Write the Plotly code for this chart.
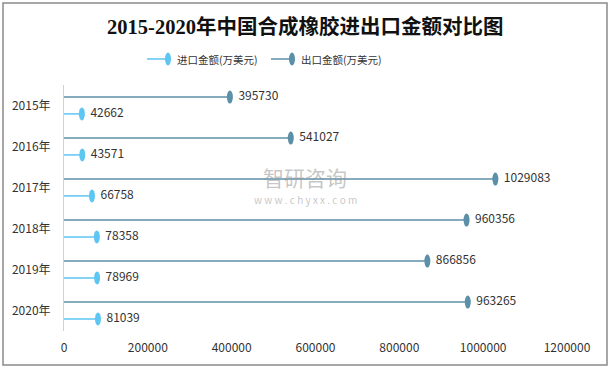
import plotly.graph_objects as go
import numpy as np

years = ["2015年", "2016年", "2017年", "2018年", "2019年", "2020年"]
import_vals = [42662, 43571, 66758, 78358, 78969, 81039]
export_vals = [395730, 541027, 1029083, 960356, 866856, 963265]
x_ticks = [0, 200000, 400000, 600000, 800000, 1000000, 1200000]

c_imp = "#5EC6F2"
c_exp = "#5C8FA8"
font = "Noto Sans CJK SC, Microsoft YaHei, sans-serif"

pos = np.arange(len(years))
off = 0.205
y_exp = pos - off
y_imp = pos + off

fig = go.Figure()

def lollipop(vals, ys, color, name):
    xs, yy = [], []
    for v, y in zip(vals, ys):
        xs += [0, v, None]
        yy += [y, y, None]
    fig.add_trace(go.Scatter(x=xs, y=yy, mode="lines", line=dict(color=color, width=1.5),
                             name=name, showlegend=False, hoverinfo="skip"))
    fig.add_trace(go.Scatter(x=vals, y=ys, mode="markers+text", marker=dict(size=12, opacity=0),
                             text=[str(v) for v in vals], textposition="middle right",
                             textfont=dict(family=font, size=12, color="#333333"),
                             showlegend=False, hoverinfo="skip"))
    for v, y in zip(vals, ys):
        fig.add_shape(type="circle", xref="x", yref="y", xsizemode="pixel", ysizemode="pixel",
                      xanchor=v, yanchor=y, x0=-3, x1=3, y0=-6.5, y1=6.5,
                      fillcolor=color, line=dict(width=0))

lollipop(export_vals, y_exp, c_exp, "出口金额(万美元)")
lollipop(import_vals, y_imp, c_imp, "进口金额(万美元)")

W0, X0, X1 = 613, 64, 567
H0, Y0, Y1 = 369, 85, 331
def px(x):
    return (x - X0) / (X1 - X0)
def py(y):
    return (Y1 - y) / (Y1 - Y0)

# outer border
fig.add_shape(type="rect", xref="paper", yref="paper", x0=px(3), x1=px(607), y0=py(365), y1=py(3),
              line=dict(color="#8a8a8a", width=1.5), fillcolor="rgba(0,0,0,0)", layer="below")

# custom legend
for lx0, lx1, col, label in [(147, 168, c_imp, "进口金额(万美元)"), (271, 292, c_exp, "出口金额(万美元)")]:
    fig.add_shape(type="line", xref="paper", yref="paper", x0=px(lx0), x1=px(lx1), y0=py(59), y1=py(59),
                  line=dict(color=col, width=1.5))
    fig.add_shape(type="circle", xref="paper", yref="paper", x0=px(lx1 - 3), x1=px(lx1 + 3),
                  y0=py(65.5), y1=py(52.5), fillcolor=col, line=dict(width=0))
    fig.add_annotation(x=px(lx1 + 7), y=py(59), xref="paper", yref="paper", text=label,
                       showarrow=False, xanchor="left", yanchor="middle",
                       font=dict(family=font, size=10.5, color="#333333"))

# watermark
fig.add_annotation(x=px(305), y=py(177), xref="paper", yref="paper", text="智研咨询",
                   showarrow=False, font=dict(family=font, size=21, color="rgba(150,150,150,0.55)"))
fig.add_annotation(x=px(305), y=py(199), xref="paper", yref="paper", text="w w w . c h y x x . c o m",
                   showarrow=False, font=dict(family=font, size=10, color="rgba(150,150,150,0.55)"))

fig.update_layout(
    width=W0, height=H0,
    margin=dict(l=X0, r=W0 - X1, t=Y0, b=H0 - Y1),
    paper_bgcolor="white", plot_bgcolor="white",
    title=dict(text="<b>2015-2020年中国合成橡胶进出口金额对比图</b>", x=0.498, xref="container", xanchor="center",
               y=1 - 27 / H0, yanchor="middle",
               font=dict(family="Liberation Serif, Noto Sans CJK SC, serif", size=20.5, color="#111111")),
    xaxis=dict(range=[0, 1200000], tickvals=x_ticks, ticktext=[str(t) for t in x_ticks],
               showgrid=False, zeroline=False, showline=False,
               tickfont=dict(family=font, size=12, color="#333333"), ticks="", ticklabelstandoff=8),
    yaxis=dict(range=[len(years) - 0.5, -0.5], tickvals=list(pos), ticktext=years,
               showgrid=False, zeroline=False, showline=True, linecolor="#d0d0d0", linewidth=1,
               tickfont=dict(family=font, size=12, color="#333333"), ticks="", ticklabelstandoff=10),
    showlegend=False,
)

fig.write_html("out.html", config={"displayModeBar": False},
               post_script="document.body.style.margin='0';document.body.style.overflow='hidden';")
